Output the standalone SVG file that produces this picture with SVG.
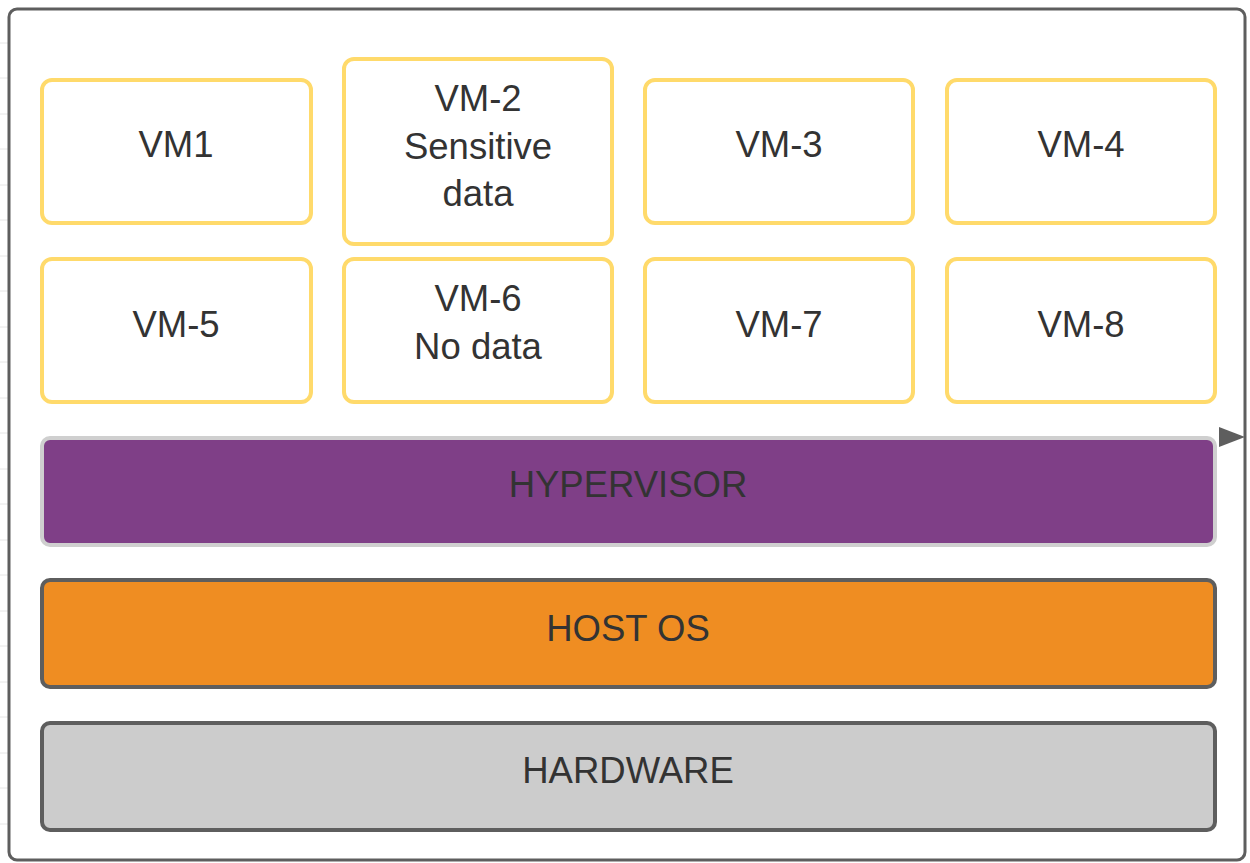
<svg xmlns="http://www.w3.org/2000/svg" width="1250" height="863" viewBox="0 0 1250 863">
<defs>
<style>
.vm{fill:#fff;stroke:#FFDA6B;stroke-width:4}
.lbl{font-family:"Liberation Sans",Arial,sans-serif;font-size:36.5px;fill:#333;text-anchor:middle}
.layer{stroke:#5E5E5E;stroke-width:4}
.grid{stroke:#E6E6E6;stroke-width:1}
</style>
</defs>
<rect width="1250" height="863" fill="#fff"/>
<g id="grid">
<line class="grid" x1="0" y1="43" x2="8" y2="43"/>
<line class="grid" x1="0" y1="78" x2="8" y2="78"/>
<line class="grid" x1="0" y1="114" x2="8" y2="114"/>
<line class="grid" x1="0" y1="149" x2="8" y2="149"/>
<line class="grid" x1="0" y1="185" x2="8" y2="185"/>
<line class="grid" x1="0" y1="220" x2="8" y2="220"/>
<line class="grid" x1="0" y1="256" x2="8" y2="256"/>
<line class="grid" x1="0" y1="291" x2="8" y2="291"/>
<line class="grid" x1="0" y1="327" x2="8" y2="327"/>
<line class="grid" x1="0" y1="362" x2="8" y2="362"/>
<line class="grid" x1="0" y1="398" x2="8" y2="398"/>
<line class="grid" x1="0" y1="433" x2="8" y2="433"/>
<line class="grid" x1="0" y1="469" x2="8" y2="469"/>
<line class="grid" x1="0" y1="504" x2="8" y2="504"/>
<line class="grid" x1="0" y1="540" x2="8" y2="540"/>
<line class="grid" x1="0" y1="575" x2="8" y2="575"/>
<line class="grid" x1="0" y1="611" x2="8" y2="611"/>
<line class="grid" x1="0" y1="646" x2="8" y2="646"/>
<line class="grid" x1="0" y1="682" x2="8" y2="682"/>
<line class="grid" x1="0" y1="717" x2="8" y2="717"/>
<line class="grid" x1="0" y1="753" x2="8" y2="753"/>
<line class="grid" x1="0" y1="788" x2="8" y2="788"/>
<line class="grid" x1="0" y1="824" x2="8" y2="824"/>
</g>
<g id="container">
<rect x="9" y="9" width="1236" height="851" rx="8" fill="#fff" stroke="#5E5E5E" stroke-width="3"/>
</g>
<g id="vm1"><rect class="vm" x="42" y="80" width="269" height="143" rx="10"/><text class="lbl" x="176" y="157">VM1</text></g>
<g id="vm2"><rect class="vm" x="344" y="59" width="268" height="185" rx="10"/><text class="lbl" x="478" y="111">VM-2</text><text class="lbl" x="478" y="159">Sensitive</text><text class="lbl" x="478" y="206">data</text></g>
<g id="vm3"><rect class="vm" x="645" y="80" width="268" height="143" rx="10"/><text class="lbl" x="779" y="157">VM-3</text></g>
<g id="vm4"><rect class="vm" x="947" y="80" width="268" height="143" rx="10"/><text class="lbl" x="1081" y="157">VM-4</text></g>
<g id="vm5"><rect class="vm" x="42" y="259" width="269" height="143" rx="10"/><text class="lbl" x="176" y="337">VM-5</text></g>
<g id="vm6"><rect class="vm" x="344" y="259" width="268" height="143" rx="10"/><text class="lbl" x="478" y="311">VM-6</text><text class="lbl" x="478" y="359">No data</text></g>
<g id="vm7"><rect class="vm" x="645" y="259" width="268" height="143" rx="10"/><text class="lbl" x="779" y="337">VM-7</text></g>
<g id="vm8"><rect class="vm" x="947" y="259" width="268" height="143" rx="10"/><text class="lbl" x="1081" y="337">VM-8</text></g>
<g id="hypervisor"><rect x="42" y="438" width="1173" height="107" rx="8" fill="#7F3F87" stroke="#CFCFCF" stroke-width="4"/><text class="lbl" x="628" y="497">HYPERVISOR</text></g>
<g id="hostos"><rect class="layer" x="42" y="580" width="1173" height="107" rx="8" fill="#EF8D22"/><text class="lbl" x="628" y="641">HOST OS</text></g>
<g id="hardware"><rect class="layer" x="42" y="723" width="1173" height="107" rx="8" fill="#CCCCCC"/><text class="lbl" x="628" y="783">HARDWARE</text></g>
<g id="connectors">
<polygon points="1219,427 1245,437 1219,447" fill="#5E5E5E"/>
</g>
</svg>
